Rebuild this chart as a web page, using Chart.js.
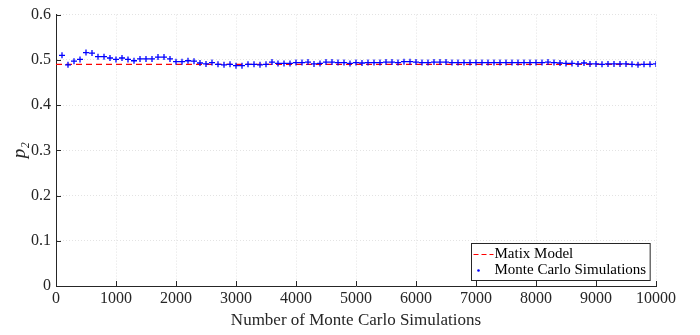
<!DOCTYPE html>
<html lang="en">
<head>
    <meta charset="UTF-8">
    <title>p2 vs Monte Carlo runs</title>
    <script src="https://cdn.jsdelivr.net/npm/chart.js"></script>
    <style>
        html, body { margin: 0; padding: 0; background: #fff; }
        #wrap { width: 700px; height: 335px; }
    </style>
</head>
<body>
<div id="wrap"><canvas id="Chart" width="700" height="335"></canvas></div>
<script>
    // number of Monte Carlo simulations (x)
    const runs = [
        100, 200, 300, 400, 500, 600, 700, 800, 900, 1000,
        1100, 1200, 1300, 1400, 1500, 1600, 1700, 1800, 1900, 2000,
        2100, 2200, 2300, 2400, 2500, 2600, 2700, 2800, 2900, 3000,
        3100, 3200, 3300, 3400, 3500, 3600, 3700, 3800, 3900, 4000,
        4100, 4200, 4300, 4400, 4500, 4600, 4700, 4800, 4900, 5000,
        5100, 5200, 5300, 5400, 5500, 5600, 5700, 5800, 5900, 6000,
        6100, 6200, 6300, 6400, 6500, 6600, 6700, 6800, 6900, 7000,
        7100, 7200, 7300, 7400, 7500, 7600, 7700, 7800, 7900, 8000,
        8100, 8200, 8300, 8400, 8500, 8600, 8700, 8800, 8900, 9000,
        9100, 9200, 9300, 9400, 9500, 9600, 9700, 9800, 9900, 10000
    ];
    // simulated p2
    const mcP2 = [
        0.510, 0.489, 0.497, 0.501, 0.516, 0.515, 0.507, 0.507, 0.504, 0.501,
        0.504, 0.501, 0.498, 0.502, 0.502, 0.502, 0.506, 0.506, 0.502, 0.496,
        0.496, 0.498, 0.497, 0.493, 0.491, 0.494, 0.490, 0.489, 0.490, 0.487,
        0.487, 0.490, 0.490, 0.489, 0.490, 0.495, 0.492, 0.492, 0.492, 0.494,
        0.494, 0.495, 0.491, 0.492, 0.495, 0.495, 0.494, 0.494, 0.492, 0.494,
        0.493, 0.494, 0.494, 0.494, 0.495, 0.495, 0.494, 0.496, 0.496, 0.495,
        0.494, 0.494, 0.495, 0.495, 0.495, 0.494, 0.494, 0.494, 0.494, 0.494,
        0.494, 0.494, 0.494, 0.494, 0.494, 0.494, 0.494, 0.494, 0.494, 0.494,
        0.494, 0.495, 0.494, 0.493, 0.492, 0.492, 0.491, 0.493, 0.491, 0.491,
        0.490, 0.491, 0.491, 0.491, 0.491, 0.490, 0.489, 0.490, 0.490, 0.491
    ];
    // matrix model value (constant)
    const modelX = [0, 10000];
    const modelP2 = [0.49, 0.49];

    const xTitle = 'Number of Monte Carlo Simulations';
    const yTitle = 'p\u2082';
    const seriesNames = ['Matix Model', 'Monte Carlo Simulations'];

    const axisColor = '#262626';
    const serif = "'Liberation Serif', 'Times New Roman', serif";

    // MATLAB style inward ticks
    const innerTicks = {
        id: 'innerTicks',
        afterDraw(chart) {
            const ctx = chart.ctx;
            const area = chart.chartArea;
            const xs = chart.scales.x, ys = chart.scales.y;
            ctx.save();
            ctx.strokeStyle = axisColor;
            ctx.lineWidth = 1;
            ctx.beginPath();
            xs.ticks.forEach(t => {
                const px = Math.round(xs.getPixelForValue(t.value)) + 0.5;
                ctx.moveTo(px, area.bottom);
                ctx.lineTo(px, area.bottom - 5);
            });
            ys.ticks.forEach(t => {
                const py = Math.round(ys.getPixelForValue(t.value)) + 0.5;
                ctx.moveTo(area.left, py);
                ctx.lineTo(area.left + 5, py);
            });
            ctx.stroke();
            ctx.restore();
        }
    };

    // legend box in the lower right corner of the axes
    const boxLegend = {
        id: 'boxLegend',
        afterDraw(chart) {
            const ctx = chart.ctx;
            const area = chart.chartArea;
            const names = chart.data.datasets.map(d => d.label);
            ctx.save();
            ctx.font = "15px " + serif;
            const textW = Math.max(...names.map(n => ctx.measureText(n).width));
            const w = textW + 27;
            const h = 37;
            const x0 = Math.round(area.right - 6 - w) + 0.5;
            const y0 = Math.round(area.bottom - 6 - h) + 0.5;
            ctx.fillStyle = '#fff';
            ctx.fillRect(x0, y0, w, h);
            ctx.strokeStyle = axisColor;
            ctx.lineWidth = 1;
            ctx.strokeRect(x0, y0, w, h);

            const r1 = y0 + 11, r2 = y0 + 27;
            // dashed red sample
            ctx.strokeStyle = '#ff0000';
            ctx.lineWidth = 1.2;
            ctx.setLineDash([5, 3]);
            ctx.beginPath();
            ctx.moveTo(x0 + 2, r1);
            ctx.lineTo(x0 + 22, r1);
            ctx.stroke();
            ctx.setLineDash([]);
            // blue marker sample
            ctx.fillStyle = '#0000ff';
            ctx.beginPath();
            ctx.arc(x0 + 7, r2, 1.3, 0, Math.PI * 2);
            ctx.fill();

            ctx.fillStyle = '#000';
            ctx.textBaseline = 'middle';
            ctx.textAlign = 'left';
            ctx.fillText(names[0], x0 + 23, r1);
            ctx.fillText(names[1], x0 + 23, r2);
            ctx.restore();
        }
    };

    const ctx = document.getElementById('Chart').getContext('2d');
    new Chart(ctx, {
        type: 'scatter',
        data: {
            datasets: [
                {
                    label: seriesNames[0],
                    data: modelX.map((x, i) => ({x: x, y: modelP2[i]})),
                    showLine: true,
                    borderColor: '#ff0000',
                    borderWidth: 1.3,
                    borderDash: [6, 4],
                    pointRadius: 0,
                    order: 2
                },
                {
                    label: seriesNames[1],
                    data: runs.map((x, i) => ({x: x, y: mcP2[i]})),
                    showLine: false,
                    pointStyle: 'cross',
                    pointRadius: 3,
                    borderColor: '#0000ff',
                    backgroundColor: '#0000ff',
                    pointBorderWidth: 1.3,
                    order: 1
                }
            ]
        },
        options: {
            responsive: false,
            animation: false,
            layout: { padding: { top: 10, right: 44, bottom: 0, left: 0 } },
            plugins: {
                legend: { display: false },
                tooltip: { enabled: false }
            },
            scales: {
                x: {
                    type: 'linear',
                    min: 0,
                    max: 10000,
                    afterFit: s => { s.height = 49; },
                    ticks: {
                        stepSize: 1000,
                        color: axisColor,
                        padding: 3,
                        maxRotation: 0,
                        font: { family: serif, size: 16 },
                        callback: v => String(v)
                    },
                    grid: { color: '#e3e3e3', drawTicks: false },
                    border: { color: axisColor, width: 1, dash: [1, 2] },
                    title: {
                        display: true,
                        text: xTitle,
                        color: axisColor,
                        padding: { top: 0, bottom: 4 },
                        font: { family: serif, size: 17 }
                    }
                },
                y: {
                    min: 0,
                    max: 0.6,
                    afterFit: s => { s.width = 56; },
                    ticks: {
                        stepSize: 0.1,
                        color: axisColor,
                        padding: 5,
                        font: { family: serif, size: 16 },
                        callback: v => v === 0 ? '0' : v.toFixed(1)
                    },
                    grid: { color: '#e3e3e3', drawTicks: false },
                    border: { color: axisColor, width: 1, dash: [1, 2] },
                    title: {
                        display: true,
                        text: yTitle,
                        color: axisColor,
                        padding: { top: 9, bottom: 0 },
                        font: { family: serif, size: 19, style: 'italic' }
                    }
                }
            }
        },
        plugins: [innerTicks, boxLegend]
    });
</script>
</body>
</html>
